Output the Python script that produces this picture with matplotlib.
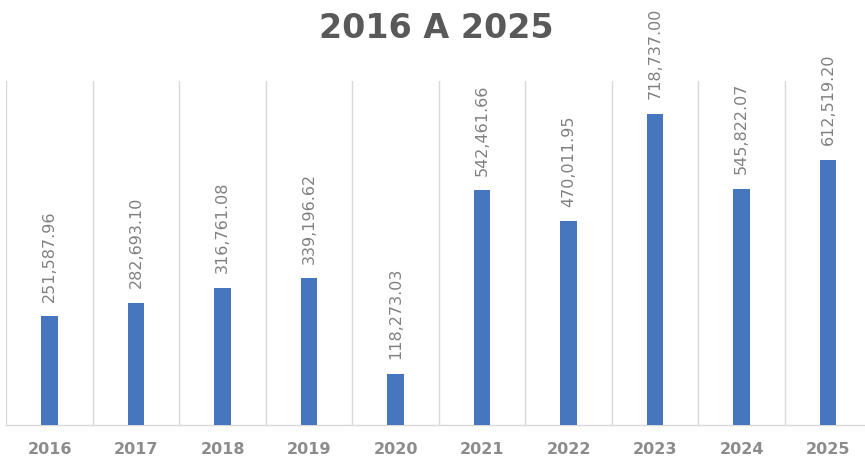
import matplotlib
matplotlib.use("Agg")
import matplotlib.pyplot as plt

years = ["2016", "2017", "2018", "2019", "2020", "2021", "2022", "2023", "2024", "2025"]
values = [251587.96, 282693.10, 316761.08, 339196.62, 118273.03,
          542461.66, 470011.95, 718737.00, 545822.07, 612519.20]
title = "2016 A 2025"

W, H = 865, 460
fig = plt.figure(figsize=(W / 100, H / 100), dpi=100)
fig.patch.set_facecolor("white")

left_px, base_px, top_px = 6.3, 426, 82
ax = fig.add_axes([left_px / W, (H - base_px) / H, 865 / W, (base_px - top_px) / H])

x = list(range(len(years)))
ax.bar(x, values, width=0.19, color="#4677BE", zorder=3)

ax.set_xlim(-0.5, len(years) - 0.5)
ax.set_ylim(0, 794000)

# vertical grid lines between categories
ax.set_xticks([i - 0.5 for i in range(len(years) + 1)], minor=True)
ax.grid(True, which="minor", axis="x", color="#d9d9d9", linewidth=1, zorder=0)
ax.grid(False, which="major")
ax.tick_params(which="minor", length=0)

ax.set_xticks(x)
ax.set_xticklabels(years)
ax.tick_params(axis="x", which="major", length=0, pad=11.5, labelsize=11.5,
               labelcolor="#8c8c8c")
for lbl in ax.get_xticklabels():
    lbl.set_fontweight("bold")
ax.set_yticks([])

for s in ["top", "right", "left"]:
    ax.spines[s].set_visible(False)
ax.spines["bottom"].set_color("#d9d9d9")
ax.spines["bottom"].set_linewidth(1)

for xi, v in zip(x, values):
    ax.annotate(f"{v:,.2f}", (xi, v), xytext=(0, 11), textcoords="offset points",
                rotation=90, ha="center", va="bottom", fontsize=11.5,
                color="#808080", annotation_clip=False)

fig.text(436 / W, 1 - 28 / H, title, ha="center", va="center",
         fontsize=24, fontweight="bold", color="#595959")

fig.savefig("out.png", dpi=100)
